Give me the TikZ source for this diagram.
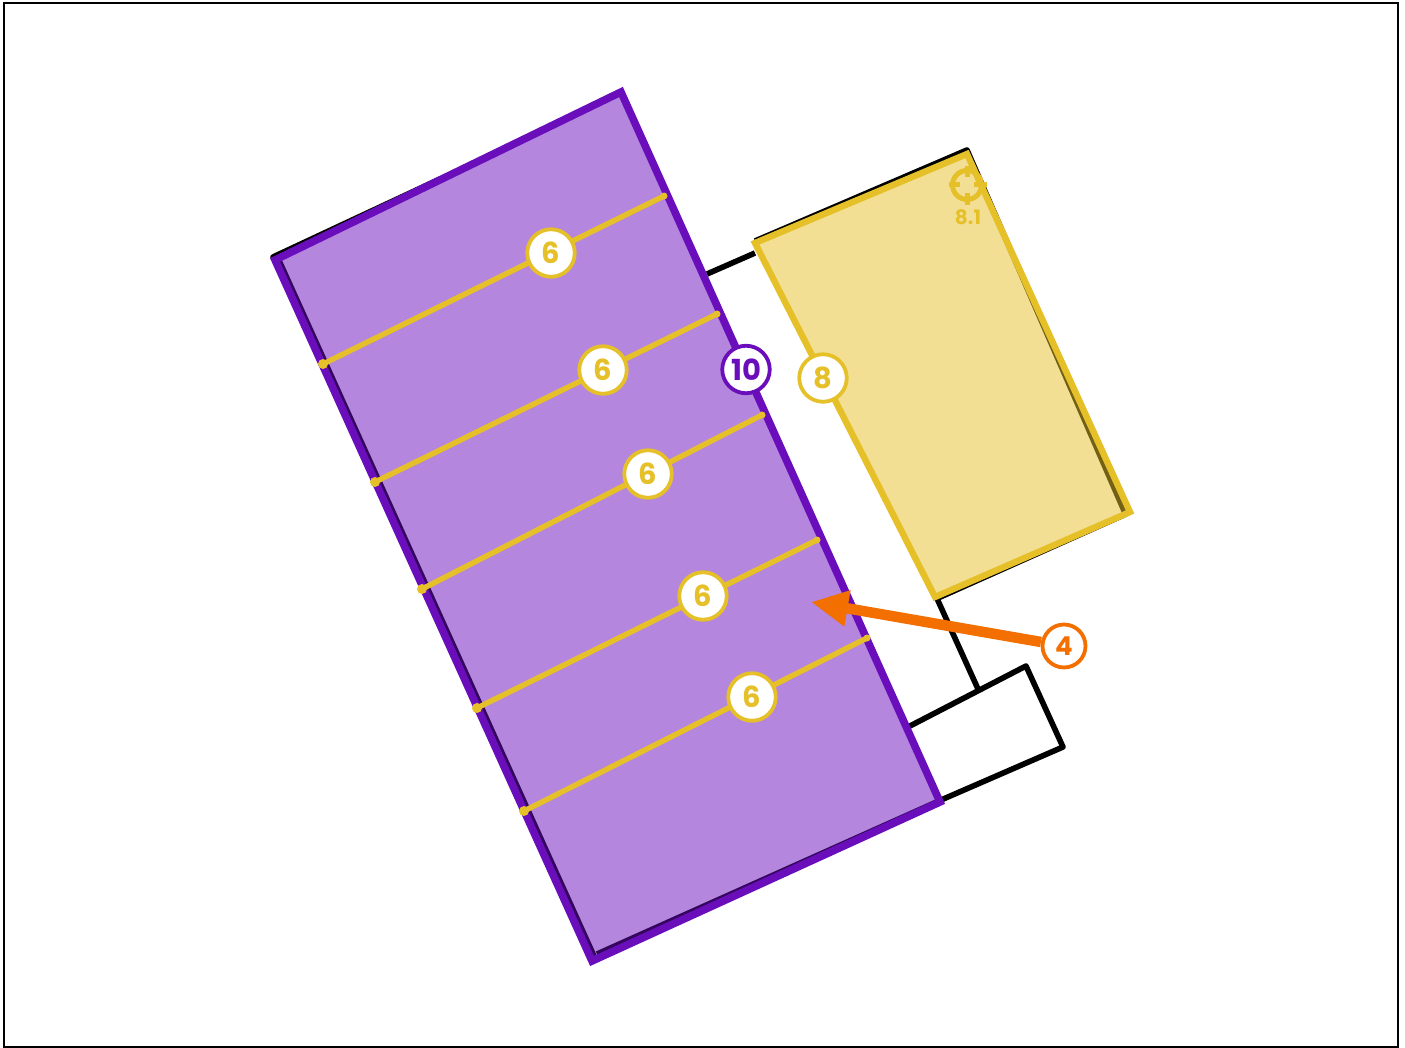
\documentclass[tikz,border=0pt]{standalone}
\usepackage{fontspec}
\setmainfont{Poppins}
\usetikzlibrary{arrows.meta}
\definecolor{purp}{HTML}{6A0DBB}
\definecolor{yel}{HTML}{E5C028}
\definecolor{org}{HTML}{F36F00}
\tikzset{
  x=1pt,y=-1pt,
  wall/.style={draw=black,line width=5.6pt,line join=round},
  purpzone/.style={draw=purp,line width=7.6pt,fill=purp,fill opacity=.5,draw opacity=1,line join=miter},
  yelzone/.style={draw=yel,line width=6.4pt,fill=yel,fill opacity=.5,draw opacity=1,line join=miter},
  yelline/.style={draw=yel,line width=5.4pt},
  enddot/.style={circle,fill=yel,inner sep=0pt,minimum size=10pt},
  badge/.style={circle,fill=white,line width=3.8pt,minimum size=47.5pt,inner sep=0pt,font=\fontsize{29}{29}\selectfont\bfseries},
  ybadge/.style={badge,draw=yel,text=yel},
  pbadge/.style={badge,draw=purp,text=purp},
  obadge/.style={badge,draw=org,text=org,minimum size=43pt,font=\fontsize{26}{26}\selectfont\bfseries},
  arrowline/.style={draw=org,line width=10.5pt,-{Triangle[length=37pt,width=34pt]}},
  tick/.style={draw=yel,line width=5pt}
}
\begin{document}
\begin{tikzpicture}
\useasboundingbox (0,0) rectangle (1405,1048);
\draw[black,line width=2.8pt] (4,3) rectangle (1398,1047);
% plan walls
\draw[wall] (594,956) -- (277,256) -- (273,257) -- (440,179);
\draw[wall] (707,274) -- (755,253);
\draw[wall] (597,954) -- (941,800) -- (1063,747) -- (1026,666) -- (908,727);
\draw[wall] (755,241) -- (967,150) -- (1125,513) -- (1126,514) -- (937,598.5) -- (978,689);
% zones
\path[purpzone] (275,260) -- (621,92) -- (940,802) -- (592,961) -- cycle;
\path[yelzone] (755,243) -- (967,154) -- (1130,512) -- (935,597) -- cycle;
% target
\coordinate (tc) at (967,185);
\draw[tick] (tc) circle (14.5);
\draw[tick] (949,185) -- (960,185) (974,185) -- (987,185) (967,166) -- (967,177) (967,193) -- (967,205);
\node[text=yel,font=\fontsize{20}{20}\selectfont\bfseries,inner sep=0pt] (lbl) at (968,217) {8.1};
% lines with badges
\foreach \n/\ax/\ay/\bx/\by/\cx/\cy in {
  a/323/364/664/196/551/253,
  b/375/482/717/314/603/370,
  c/422/589/762/415/648/474,
  d/477/708/817/540/703/596,
  e/524/811/867/638/752/697}{
  \node[enddot] (\n1) at (\ax,\ay) {};
  \node[enddot,minimum size=7pt] (\n2) at (\bx,\by) {};
  \draw[yelline] (\n1.center) -- (\n2.center);
  \node[ybadge] (\n3) at (\cx,\cy) {6};
}
\node[pbadge] (ten) at (746,369.5) {10};
\node[ybadge] (eight) at (823,378) {8};
\node[obadge] (four) at (1064,646) {4};
\coordinate (tip) at (811,602);
\draw[arrowline] (four) -- (tip);
\end{tikzpicture}
\end{document}
